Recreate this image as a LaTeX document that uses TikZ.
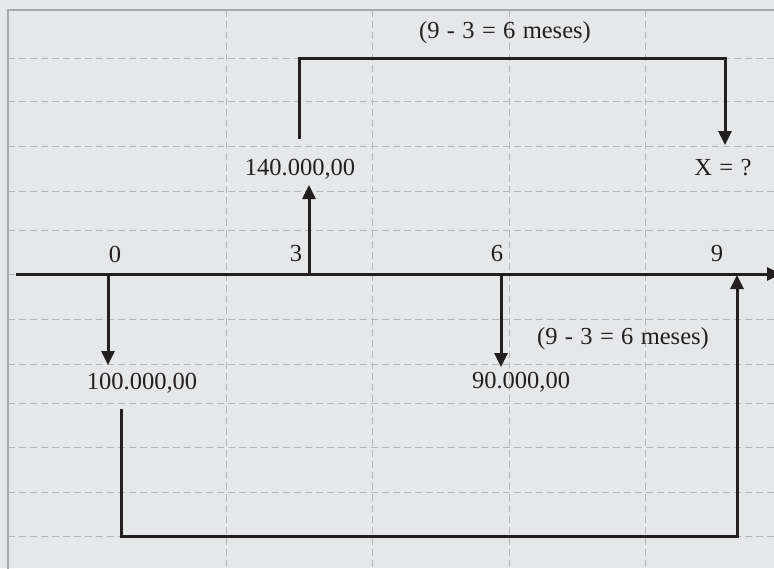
\documentclass[tikz,border=0pt]{standalone}
\usepackage{fontspec}
\setmainfont[WordSpace=1.2]{Liberation Serif}
\usetikzlibrary{arrows.meta}
\definecolor{bgc}{HTML}{E6E7E8}
\definecolor{ink}{HTML}{231F20}
\definecolor{gridc}{HTML}{B5B6B8}
\definecolor{framec}{HTML}{A7A8AA}
\tikzset{
  gridline/.style={gridc, line width=0.9pt, dash pattern=on 7pt off 4pt},
  flow/.style={ink, line width=3pt, -{Triangle[width=13pt,length=14pt]}},
  lbl/.style={text=ink, font=\fontsize{24.5}{28}\selectfont, inner sep=0pt, anchor=center}
}
\begin{document}
\begin{tikzpicture}[x=1pt,y=-1pt]
\useasboundingbox (0,0) rectangle (774,568);
\fill[bgc] (0,0) rectangle (774,568);
% frame
\draw[framec, line width=1.6pt] (8,580) -- (8,10) -- (790,10);
% grid
\foreach \yy in {58,101,146,191,230,274,319,364,403,447,492,536}
  \draw[gridline] (8,\yy) -- (774,\yy);
\foreach \xx in {226,372,509,645}
  \draw[gridline] (\xx,10) -- (\xx,568);
% coordinates
\coordinate (axL) at (16,274);
\coordinate (axR) at (781,274);
\coordinate (t0) at (108,274);
\coordinate (t0e) at (108,365);
\coordinate (t3) at (309,274);
\coordinate (t3e) at (309,185);
\coordinate (t6) at (501,274);
\coordinate (t6e) at (501,367);
\coordinate (t9e) at (737,275);
\coordinate (ua) at (299,139);
\coordinate (ub) at (299,58);
\coordinate (uc) at (725,58);
\coordinate (ud) at (725,145);
\coordinate (la) at (121,409);
\coordinate (lb) at (121,536);
\coordinate (lc) at (737,536);
% axis
\draw[flow] (axL) -- (axR);
% cash flows
\draw[flow] (t0) -- (t0e);
\draw[flow] (t3) -- (t3e);
\draw[flow] (t6) -- (t6e);
\draw[flow] (ua) -- (ub) -- (uc) -- (ud);
\draw[flow] (la) -- (lb) -- (lc) -- (t9e);
% labels
\node[lbl] (n0) at (115,254) {0};
\node[lbl] (n3) at (296,254) {3};
\node[lbl] (n6) at (497,254) {6};
\node[lbl] (n9) at (717,254) {9};
\node[lbl] (v140) at (300,169) {140.000,00};
\node[lbl] (vx) at (723,168) {X = ?};
\node[lbl] (top) at (505,33) {(9 - 3 = 6 meses)};
\node[lbl] (v100) at (142,383) {100.000,00};
\node[lbl] (v90) at (521,382) {90.000,00};
\node[lbl] (bot) at (623,339) {(9 - 3 = 6 meses)};
\end{tikzpicture}
\end{document}
